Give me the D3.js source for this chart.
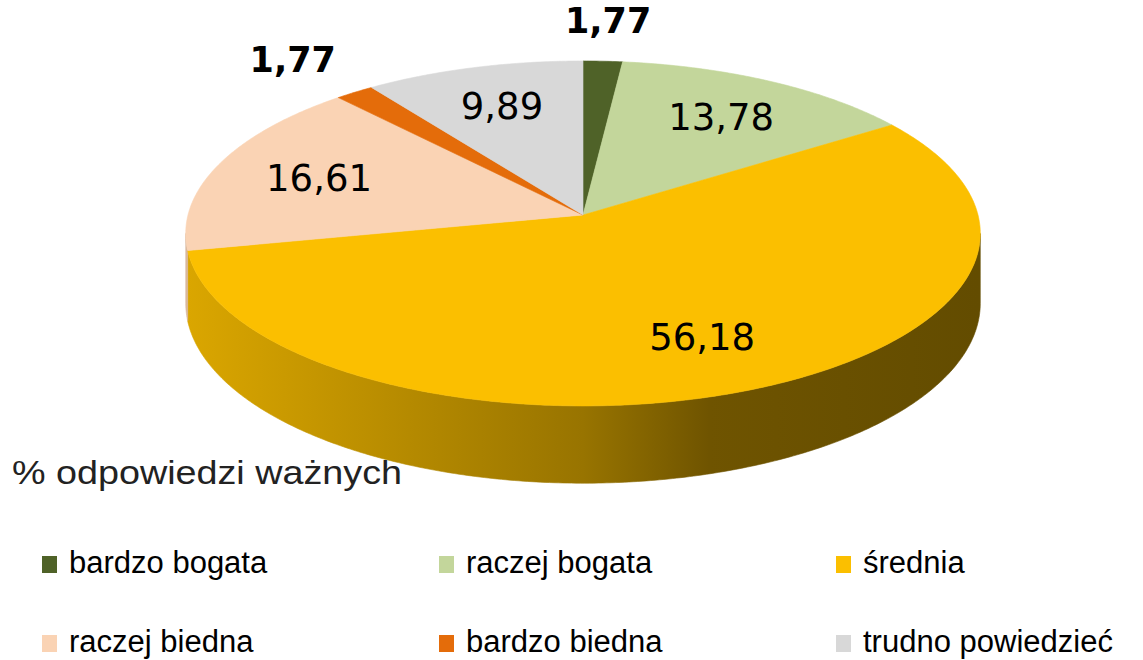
<!DOCTYPE html>
<html>
<head>
<meta charset="utf-8">
<script src="https://cdn.jsdelivr.net/npm/d3@7"></script>
<style>
  body { margin: 0; background: #fff; }
  svg { display: block; }
</style>
</head>
<body>
<svg id="chart" width="1143" height="660"></svg>
<script>
const categories = ["bardzo bogata", "raczej bogata", "średnia", "raczej biedna", "bardzo biedna", "trudno powiedzieć"];
const values = [1.77, 13.78, 56.18, 16.61, 1.77, 9.89];
const colors = ["#4F6228", "#C3D69B", "#FBBF00", "#FAD3B4", "#E46C0A", "#D8D8D8"];
const labels = ["1,77", "13,78", "56,18", "16,61", "1,77", "9,89"];
const caption = "% odpowiedzi ważnych";

const svg = d3.select("#chart");
const defs = svg.append("defs");

// pie geometry (perspective tilted disc)
const cx = 583, cy = 215;
const A = 395, B = 170.5, k = 0.107, depth = 69;

// project angle (clockwise from top), radius fraction and height (0 top, 1 bottom)
function proj(a, r, z) {
  const u = r * Math.sin(a), v = -r * Math.cos(a);
  const w = 1 - k * v;
  return [cx + A * u / w, cy + B * v / w + z * depth / w];
}

function arcPoints(a0, a1, r, z) {
  const n = Math.max(2, Math.ceil((a1 - a0) / 0.01));
  return d3.range(n + 1).map(i => proj(a0 + (a1 - a0) * i / n, r, z));
}

const pie = d3.pie().sort(null).value(d => d)(values);
const line = d3.line();

// visible side range (silhouette of the disc)
const sideStart = Math.acos(-k), sideEnd = 2 * Math.PI - Math.acos(-k);

const sideG = svg.append("g");
pie.forEach((d, i) => {
  const a0 = Math.max(d.startAngle, sideStart), a1 = Math.min(d.endAngle, sideEnd);
  if (a1 <= a0) return;
  const base = d3.color(colors[i]);
  const grad = defs.append("linearGradient")
    .attr("id", "side" + i)
    .attr("gradientUnits", "userSpaceOnUse")
    .attr("x1", cx - A).attr("x2", cx + A).attr("y1", 0).attr("y2", 0);
  [[0, 0.4], [0.5, 1.4], [0.66, 2.3], [1, 2.6]].forEach(s => {
    grad.append("stop").attr("offset", s[0]).attr("stop-color", base.darker(s[1]).formatHex());
  });
  const pts = arcPoints(a0, a1, 1, 0).concat(arcPoints(a0, a1, 1, 1).reverse());
  sideG.append("path")
    .attr("d", line(pts) + "Z")
    .attr("fill", "url(#side" + i + ")")
    .attr("stroke", "url(#side" + i + ")")
    .attr("stroke-width", 0.6);
});

const topG = svg.append("g");
pie.forEach((d, i) => {
  const pts = [proj(0, 0, 0)].concat(arcPoints(d.startAngle, d.endAngle, 1, 0));
  topG.append("path")
    .attr("d", line(pts) + "Z")
    .attr("fill", colors[i])
    .attr("stroke", colors[i])
    .attr("stroke-width", 0.6);
});

// data labels: small slices outside
const labelG = svg.append("g");
pie.forEach((d, i) => {
  const mid = (d.startAngle + d.endAngle) / 2;
  const outside = values[i] < 5;
  const p = proj(mid, outside ? 1.3 : 0.72, 0);
  labelG.append("text")
    .attr("x", p[0])
    .attr("y", p[1])
    .attr("dy", "0.36em")
    .attr("text-anchor", "middle")
    .attr("font-family", "DejaVu Sans, sans-serif")
    .attr("font-size", outside ? 35 : 37)
    .attr("font-weight", outside ? "bold" : "normal")
    .attr("fill", "#000")
    .text(labels[i]);
});

svg.append("text")
  .attr("x", 12)
  .attr("y", 484)
  .attr("font-family", "Liberation Sans, Arial, sans-serif")
  .attr("font-size", 33)
  .attr("fill", "#222")
  .attr("textLength", 390)
  .attr("lengthAdjust", "spacingAndGlyphs")
  .text(caption);

// legend: 3 columns, 2 rows
const legendX = d3.scalePoint().domain([0, 1, 2]).range([42, 836]);
const legendY = d3.scalePoint().domain([0, 1]).range([573, 652]);
const legend = svg.append("g").selectAll("g")
  .data(categories)
  .join("g")
  .attr("transform", (d, i) => `translate(${legendX(i % 3)},${legendY(Math.floor(i / 3))})`);

legend.append("rect")
  .attr("x", 0).attr("y", -17)
  .attr("width", 15).attr("height", 17)
  .attr("fill", (d, i) => colors[i]);

legend.append("text")
  .attr("x", 27)
  .attr("y", 0)
  .attr("font-family", "Liberation Sans, Arial, sans-serif")
  .attr("font-size", 31)
  .attr("fill", "#000")
  .text(d => d);
</script>
</body>
</html>
